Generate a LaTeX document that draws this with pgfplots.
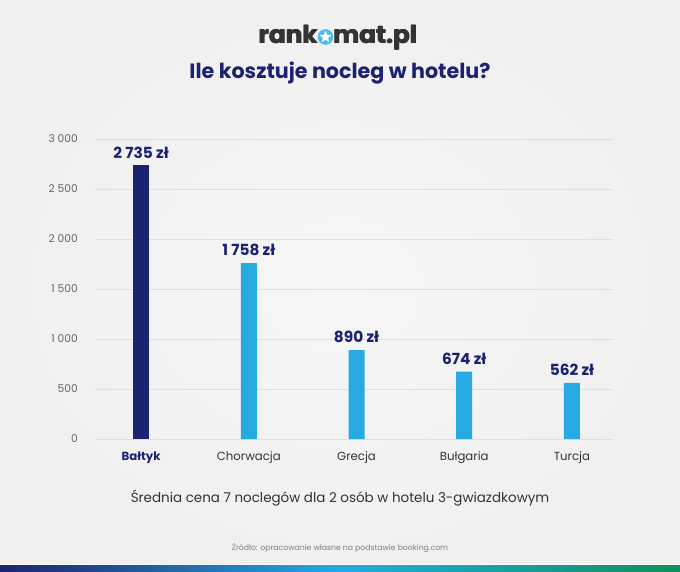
\documentclass[border=0pt]{standalone}
\usepackage{pgfplots}
\pgfplotsset{compat=1.18}
\usepackage{fontspec}
\setmainfont{Poppins}
\usetikzlibrary{shapes.geometric}
\definecolor{navy}{HTML}{1B2371}
\definecolor{sky}{HTML}{27A9E1}
\definecolor{txt}{HTML}{333333}
\definecolor{bg}{HTML}{F0F0F0}
\begin{document}
\begin{tikzpicture}[x=0.75pt,y=0.75pt]
\useasboundingbox (0,0) rectangle (680,571);
\shade[inner color=white!40!bg, outer color=bg] (0,0) rectangle (680,571);
\shade[left color=navy, right color=green!50!black!60!sky, middle color=sky] (0,0) rectangle (680,6);
\fill[white] (0,6) rectangle (680,7);
% logo
\foreach \dx in {-0.4,0,0.4}{
\node[anchor=base east, inner sep=0pt, text=txt, font=\fontsize{18.5}{18}\selectfont\bfseries] at (318+\dx,527) {rank};
\node[anchor=base west, inner sep=0pt, text=txt, font=\fontsize{18.5}{18}\selectfont\bfseries] at (333+\dx,527) {mat.pl};
}
\fill[sky!80!white] (325.5,534) circle (7.8);
\node[star, star points=5, star point ratio=2.3, fill=white, inner sep=0pt, minimum size=9.5pt] at (325.5,534) {};
% title
\node[text=navy, font=\fontsize{15.5}{15}\selectfont\bfseries] at (340,498) {Ile kosztuje nocleg w hotelu?};
\begin{axis}[
  at={(89,132)}, anchor=south west,
  scale only axis, width=387.75pt, height=225pt,
  xmin=-0.42, xmax=4.38, ymin=0, ymax=3000,
  axis line style={draw=none},
  ymajorgrids, grid style={draw=black!12, line width=0.6pt},
  major tick length=0pt,
  ytick={0,500,...,3000},
  xtick={0,1,2,3,4},
  xticklabels={{\color{navy}\bfseries Bałtyk},Chorwacja,Grecja,Bułgaria,Turcja},
  xticklabel style={font=\fontsize{8.8}{10}\selectfont, text=txt, yshift=-6pt},
  yticklabel style={font=\fontsize{8}{8}\selectfont, text=black!60, xshift=-10pt},
  /pgf/number format/assume math mode=true,
  /pgf/number format/1000 sep={\ },
  ybar, bar width=12pt,
  nodes near coords,
  point meta=explicit symbolic,
  every node near coord/.append style={font=\fontsize{11.5}{11}\selectfont\bfseries, text=navy, yshift=2pt},
  clip=false,
]
\addplot[fill=navy, draw=none, bar shift=0pt] coordinates {(0,2735) [2 735 zł]};
\addplot[fill=sky, draw=none, bar shift=0pt] coordinates {(1,1758) [1 758 zł] (2,890) [890 zł] (3,674) [674 zł] (4,562) [562 zł]};
\end{axis}
\node[text=txt, font=\fontsize{10.1}{10}\selectfont] at (340,73) {Średnia cena 7 noclegów dla 2 osób w hotelu 3-gwiazdkowym};
\node[text=black!50, font=\fontsize{5.8}{6}\selectfont] at (340,23) {Źródło: opracowanie własne na podstawie booking.com};
\end{tikzpicture}
\end{document}
